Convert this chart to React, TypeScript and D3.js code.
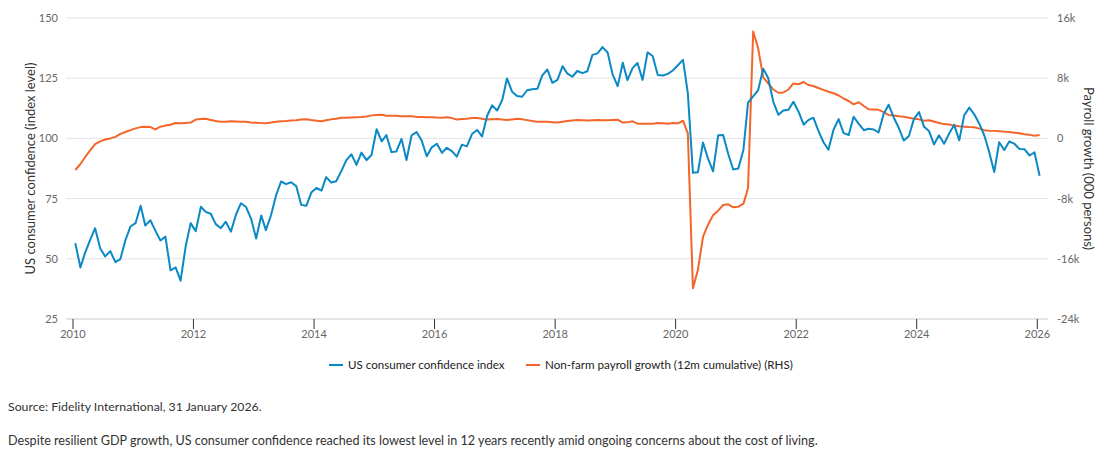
import React from "react";
import * as d3 from "d3";

// monthly, Jan 2010 - Jan 2026
const startYear = 2010;

const confidence = [
  56.5, 46.4, 52.5, 57.9, 62.7, 54.3, 51.0, 53.2, 48.6, 49.9, 57.8, 63.4,
  64.8, 72.0, 63.8, 66.0, 61.7, 57.6, 59.2, 45.2, 46.4, 40.9, 55.2, 64.8,
  61.5, 71.6, 69.5, 68.7, 64.4, 62.7, 65.4, 61.3, 68.4, 73.1, 71.5, 66.7,
  58.4, 68.0, 61.9, 68.1, 76.2, 82.1, 81.0, 81.8, 80.2, 72.4, 72.0, 77.5,
  79.4, 78.3, 83.9, 81.7, 82.2, 86.4, 90.9, 93.4, 89.0, 94.1, 91.0, 93.1,
  103.8, 98.8, 101.4, 94.3, 94.6, 99.8, 91.0, 101.3, 102.6, 99.1, 92.6, 96.3,
  97.8, 94.0, 96.1, 94.7, 92.4, 97.4, 96.7, 101.8, 103.5, 100.8, 109.4, 113.7,
  111.6, 116.1, 124.9, 119.4, 117.6, 117.3, 120.0, 120.4, 120.6, 126.2, 128.6, 123.1,
  124.3, 130.0, 127.0, 125.6, 128.0, 127.1, 127.9, 134.7, 135.3, 137.9, 135.7, 126.6,
  121.7, 131.4, 124.2, 129.2, 131.3, 124.3, 135.7, 134.2, 126.3, 126.1, 126.8, 128.2,
  130.4, 132.6, 118.8, 85.7, 85.9, 98.3, 91.7, 86.3, 101.3, 101.4, 93.5, 87.1,
  87.5, 95.2, 114.9, 117.5, 120.0, 128.9, 125.1, 115.2, 109.8, 111.6, 111.9, 115.2,
  111.1, 105.7, 107.6, 108.6, 103.2, 98.4, 95.3, 103.6, 108.0, 102.2, 101.4, 109.0,
  106.0, 103.4, 104.0, 103.7, 102.5, 110.1, 114.0, 108.7, 104.3, 99.1, 101.0, 108.0,
  110.9, 104.8, 103.1, 97.5, 101.3, 97.8, 101.9, 105.6, 99.2, 109.6, 112.8, 110.0,
  106.0, 101.0, 94.5, 86.0, 98.4, 95.2, 98.7, 97.8, 95.6, 95.5, 92.9, 94.2,
  84.5,
];

// 12m cumulative change, 000 persons
const payroll = [
  -4200, -3400, -2500, -1600, -750, -400, -150, 0, 200, 600, 850, 1100,
  1330, 1500, 1560, 1500, 1200, 1560, 1700, 1820, 2050, 2000, 2050, 2100,
  2500, 2580, 2600, 2450, 2300, 2200, 2220, 2270, 2250, 2220, 2200, 2120,
  2080, 2030, 2000, 2100, 2200, 2280, 2320, 2380, 2420, 2520, 2550, 2440,
  2350, 2270, 2400, 2530, 2620, 2750, 2750, 2780, 2800, 2830, 2900, 3060,
  3100, 3150, 3000, 3020, 3000, 2930, 2930, 2930, 2860, 2840, 2820, 2800,
  2770, 2760, 2800, 2700, 2500, 2580, 2600, 2700, 2720, 2600, 2500, 2550,
  2570, 2500, 2450, 2520, 2600, 2530, 2430, 2300, 2200, 2200, 2200, 2150,
  2100, 2200, 2300, 2380, 2430, 2400, 2370, 2400, 2440, 2420, 2400, 2450,
  2480, 2100, 2130, 2270, 1960, 1960, 1960, 1960, 2040, 2000, 1960, 2040,
  2000, 2350, 680, -19900, -17500, -13100, -11500, -10200, -9600, -8850, -8760, -9160,
  -9070, -8700, -6600, 14200, 12000, 8100, 7300, 6500, 6070, 6100, 6500, 7300,
  7200, 7500, 7100, 6960, 6700, 6450, 6200, 6000, 5700, 5300, 4970, 4530,
  4800, 4300, 3870, 3850, 3800, 3500, 3100, 3050, 2950, 2880, 2750, 2600,
  2530, 2350, 2400, 2250, 2050, 1900, 1850, 1700, 1600, 1560, 1500, 1470,
  1300, 1080, 1030, 1000, 960, 900, 850, 760, 680, 560, 470, 340,
  450,
];

const yearTicks = [2010, 2012, 2014, 2016, 2018, 2020, 2022, 2024, 2026];
const leftTicks = [25, 50, 75, 100, 125, 150];
const rightTicks = [-24000, -16000, -8000, 0, 8000, 16000];

const seriesNames = [
  "US consumer confidence index",
  "Non-farm payroll growth (12m cumulative) (RHS)",
];
const BLUE = "#0a89c4";
const ORANGE = "#f4652a";
const FONT = "Lato, 'Noto Sans', sans-serif";

export default function App() {
  const width = 1120;
  const height = 456;
  const plotLeft = 66;
  const plotRight = 1048;
  const top = 18;
  const bottom = 319;

  const x = d3
    .scaleTime()
    .domain([new Date(2010, 0, 1), new Date(2026, 0, 1)])
    .range([73, 1037.3]);
  const yL = d3.scaleLinear().domain([25, 150]).range([bottom, top]);
  const yR = d3.scaleLinear().domain([-24000, 16000]).range([bottom, top]);

  const dates = confidence.map((_, i) => new Date(startYear, i, 15));

  const lineL = d3
    .line<number>()
    .x((_, i) => x(dates[i]))
    .y((d) => yL(d));
  const lineR = d3
    .line<number>()
    .x((_, i) => x(dates[i]))
    .y((d) => yR(d));

  const fmtR = (d: number) => (d === 0 ? "0" : `${d / 1000}k`);

  return (
    <svg
      width={width}
      height={height}
      style={{ position: "absolute", left: 0, top: 0, background: "#fff" }}
      fontFamily={FONT}
    >
      {/* grid */}
      {leftTicks.slice(1).map((t) => (
        <line
          key={t}
          x1={plotLeft}
          x2={plotRight}
          y1={yL(t)}
          y2={yL(t)}
          stroke="#e3e3e3"
          strokeWidth={1}
        />
      ))}
      <line x1={plotLeft} x2={plotRight} y1={bottom} y2={bottom} stroke="#c8c8c8" />

      {/* left axis labels */}
      {leftTicks.map((t) => (
        <text key={t} x={58} y={yL(t) + 4} textAnchor="end" fontSize={11} fill="#666">
          {t}
        </text>
      ))}
      {/* right axis labels */}
      {rightTicks.map((t) => (
        <text key={t} x={1057} y={yR(t) + 4} textAnchor="start" fontSize={11} fill="#666">
          {fmtR(t)}
        </text>
      ))}

      {/* x axis */}
      {yearTicks.map((yr) => {
        const xx = x(new Date(yr, 0, 1));
        return (
          <g key={yr}>
            <line x1={xx} x2={xx} y1={bottom} y2={bottom + 10} stroke="#333" />
            <text x={xx} y={bottom + 19} textAnchor="middle" fontSize={11} fill="#666">
              {yr}
            </text>
          </g>
        );
      })}

      {/* axis titles */}
      <text
        transform={`translate(30,${(top + bottom) / 2}) rotate(-90)`}
        textAnchor="middle"
        dy="0.35em"
        fontSize={13}
        fill="#333"
      >
        US consumer confidence (index level)
      </text>
      <text
        transform={`translate(1089,${(top + bottom) / 2}) rotate(90)`}
        textAnchor="middle"
        dy="0.35em"
        fontSize={13}
        fill="#333"
      >
        Payroll growth (000 persons)
      </text>

      {/* series */}
      <path d={lineR(payroll) || ""} fill="none" stroke={ORANGE} strokeWidth={2} strokeLinejoin="round" />
      <path d={lineL(confidence) || ""} fill="none" stroke={BLUE} strokeWidth={2} strokeLinejoin="round" />

      {/* legend */}
      <g fontSize={11.6} fill="#222">
        <line x1={329} x2={343} y1={365} y2={365} stroke={BLUE} strokeWidth={2} />
        <text x={348} y={369}>{seriesNames[0]}</text>
        <line x1={526} x2={540} y1={365} y2={365} stroke={ORANGE} strokeWidth={2} />
        <text x={545} y={369}>{seriesNames[1]}</text>
      </g>

      {/* notes */}
      <text x={8} y={411} fontSize={12.3} fill="#333">
        Source: Fidelity International, 31 January 2026.
      </text>
      <text x={8} y={445} fontSize={12.6} fill="#333">
        Despite resilient GDP growth, US consumer confidence reached its lowest level in 12 years recently amid ongoing concerns about the cost of living.
      </text>
    </svg>
  );
}
